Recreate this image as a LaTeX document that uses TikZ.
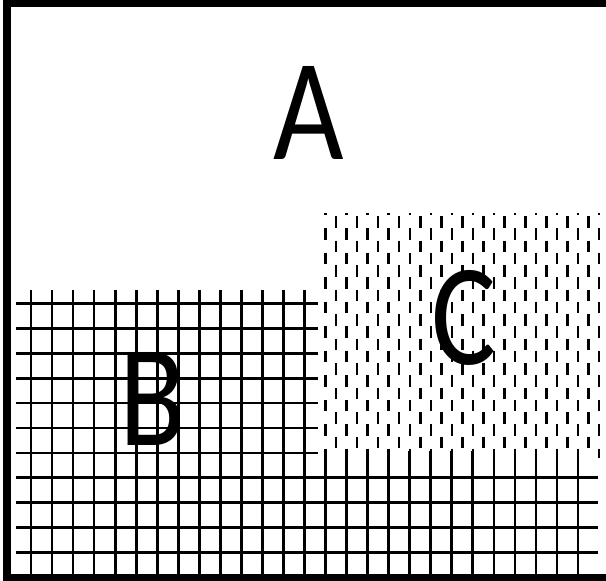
\documentclass[tikz,border=0pt]{standalone}
\usepackage{fontspec}
\setmainfont{Carlito}[FakeStretch=0.84]
\begin{document}
\begin{tikzpicture}[x=1pt,y=-1pt,
  gridline/.style={black, line width=2.7pt},
  dashline/.style={black, line width=2.5pt, dash pattern=on 11.5pt off 13pt},
  letter/.style={inner sep=0pt, font=\fontsize{145}{145}\selectfont}]
\useasboundingbox (0,0) rectangle (606,581);
% frame, open on the right
\draw[black, line width=7.5pt, line join=miter] (606,3.5) -- (7,3.5) -- (7,577.5) -- (606,577.5);
% region C: staggered dashes
\begin{scope}
\clip (321,213) rectangle (603,457);
\foreach \k in {0,...,13} {
  \draw[dashline] ({325.6+21.04*\k},203.5) -- ({325.6+21.04*\k},470);
}
\foreach \k in {0,...,12} {
  \draw[dashline] ({336.1+21.04*\k},216) -- ({336.1+21.04*\k},470);
}
\end{scope}
% region B: grid
\foreach \k in {0,...,13} {
  \draw[gridline] ({31+21.04*\k},290) -- ({31+21.04*\k},574);
}
\foreach \j in {0,...,6} {
  \draw[gridline] (16,{303.5+24.9*\j}) -- (318,{303.5+24.9*\j});
}
% bottom strip
\foreach \k in {14,...,26} {
  \draw[gridline] ({31+21.04*\k},451) -- ({31+21.04*\k},574);
}
\foreach \j in {7,...,10} {
  \draw[gridline] (16,{303.5+24.9*\j}) -- (598,{303.5+24.9*\j});
}
% labels
\node[letter] (labA) at (309,113) {A};
\node[letter] (labB) at (153,399) {B};
\node[letter] (labC) at (464,318) {C};
\end{tikzpicture}
\end{document}
